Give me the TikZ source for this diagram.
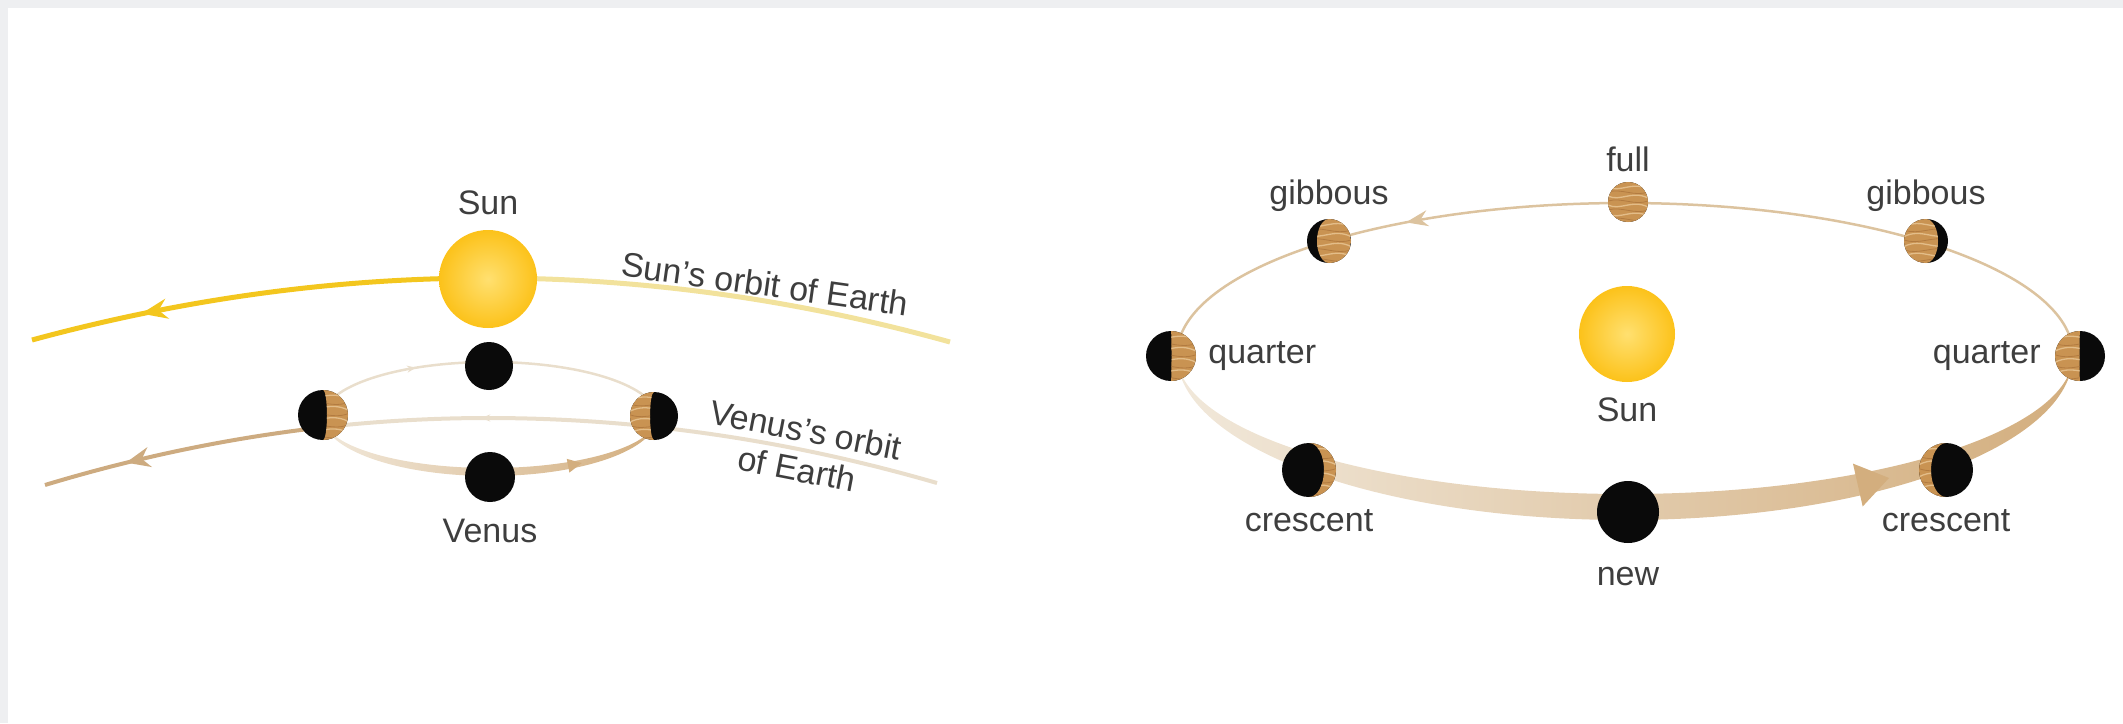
\documentclass[tikz,border=0pt]{standalone}
\usepackage{fontspec}
\setmainfont{Liberation Sans}
\usetikzlibrary{arrows.meta,positioning,decorations.markings}

\definecolor{sunyellow}{HTML}{FCC21A}
\definecolor{sunlight}{HTML}{FFE070}
\definecolor{orbityellow}{HTML}{F3C61E}
\definecolor{orbitpale}{HTML}{F2E29C}
\definecolor{orbittan}{HTML}{CDAB80}
\definecolor{orbitpaletan}{HTML}{E9DECC}
\definecolor{uppertan}{HTML}{DCC39F}
\definecolor{bandpale}{HTML}{F1E8DA}
\definecolor{banddark}{HTML}{D3AE7E}
\definecolor{venusdark}{HTML}{0A0A0A}
\definecolor{venuslit}{HTML}{C99352}
\definecolor{venusgrain}{HTML}{E3BD89}
\definecolor{venusgrainb}{HTML}{A9713A}
\definecolor{labelgray}{HTML}{3E3E3E}
\definecolor{framegray}{HTML}{EEEFF1}

% lit part of a disc: #1 node, #2 radius, #3 terminator x radius,
% #4 end angle (90 crescent, -270 gibbous), #5 lit side (1 right, -1 left)
\newcommand\venuslight[5]{%
  \begin{scope}[shift={(#1.center)},xscale=#5]
    \clip (0,#2) arc[start angle=90,end angle=-90,radius=#2]
          arc[start angle=-90,end angle=#4,x radius=#3,y radius=#2] -- cycle;
    \fill[venuslit] (-#2,-#2) rectangle (#2,#2);
    \foreach \g in {-0.75,-0.3,0.15,0.6}
      \draw[venusgrain,line width=1.3pt]
        (-#2,\g*#2) .. controls (-0.4*#2,\g*#2+0.3*#2) and (0.2*#2,\g*#2-0.3*#2) .. (#2,\g*#2+0.1*#2);
    \foreach \g in {-0.5,-0.05,0.4,0.85}
      \draw[venusgrainb,line width=0.8pt,opacity=0.7]
        (-#2,\g*#2) .. controls (-0.3*#2,\g*#2-0.2*#2) and (0.3*#2,\g*#2+0.25*#2) .. (#2,\g*#2);
  \end{scope}}

\tikzset{tipat/.style 2 args={postaction={decorate},
    decoration={markings,mark=at position #1 with {#2}}}}

\begin{document}
\begin{tikzpicture}[x=1pt,y=-1pt,every node/.style={inner sep=0pt}]
  \tikzstyle{sun}=[circle,inner color=sunlight,outer color=sunyellow]
  \tikzstyle{venus}=[circle,fill=venusdark]
  \tikzstyle{lbl}=[font=\fontsize{34}{37}\selectfont,text=labelgray]
  \tikzstyle{band}=[left color=bandpale,right color=banddark]

  \useasboundingbox (0,0) rectangle (2123,723);
  \fill[framegray] (0,0) rectangle (2123,8);
  \fill[framegray] (0,0) rectangle (8,723);

  % sun's orbit of earth
  \draw[orbityellow,line width=5pt,
        tipat={0.3}{\arrow[orbityellow]{Stealth[reversed,length=26pt,width=20pt]}}]
    (32,340) .. controls (184,298.7) and (336,278) .. (488,278);
  \draw[orbitpale,line width=5pt]
    (488,278) .. controls (642,278) and (796,299.3) .. (950,342);

  % venus's orbit of earth
  \draw[orbittan,line width=4pt,
        tipat={0.38}{\arrow[orbittan]{Stealth[reversed,length=24pt,width=20pt]}}]
    (45,485) .. controls (137.7,457) and (230.3,437.8) .. (323,427.3);
  \draw[orbitpaletan,line width=4pt,
        tipat={0.27}{\arrow[orbitpaletan]{Stealth[reversed,length=9pt,width=7pt]}}]
    (323,427.3) .. controls (378,421.1) and (433,418) .. (488,418)
    .. controls (637.7,418) and (787.3,439.7) .. (937,483);

  % venus round the sun
  \draw[orbitpaletan,line width=2.5pt,
        tipat={0.3}{\arrow[orbitpaletan]{Stealth[length=9pt,width=7pt]}}]
    (323,417) arc[start angle=180,end angle=360,x radius=167,y radius=55];
  \shade[band] (323,417) arc[start angle=180,end angle=0,x radius=167,y radius=59]
               arc[start angle=0,end angle=180,x radius=167,y radius=51] -- cycle;
  \path[tipat={0.73}{\fill[banddark] (7,0) -- (-7,7) -- (-7,-7) -- cycle;}]
    (323,417) arc[start angle=180,end angle=0,x radius=167,y radius=55];

  \node[sun,minimum size=98pt] (sunL) at (488,279) {};
  \node[venus,minimum size=48pt] (venT) at (489,366) {};
  \node[venus,minimum size=50pt] (venL) at (323,415) {};
  \node[venus,minimum size=48pt] (venR) at (654,416) {};
  \node[venus,minimum size=50pt] (venB) at (490,477) {};
  \venuslight{venL}{25}{4}{90}{1}
  \venuslight{venR}{24}{4}{90}{-1}

  \node[lbl,above=15pt of sunL] (sunLlbl) {Sun};
  \node[lbl,below=17pt of venB] (venBlbl) {Venus};
  \node[lbl,rotate=-8] (sunorb) at (765,284) {Sun’s orbit of Earth};
  \node[lbl,rotate=-11] (venorb) at (806,430) {Venus’s orbit};
  \node[lbl,rotate=-11] (venorbb) at (797,469) {of Earth};

  % phases seen from earth
  \draw[uppertan,line width=2.5pt,
        tipat={0.72}{\arrow[uppertan]{Stealth[length=22pt,width=16pt]}}]
    (2073,355) arc[start angle=360,end angle=180,x radius=448,y radius=152];
  \shade[band] (1177,355) arc[start angle=180,end angle=0,x radius=448,y radius=165]
               arc[start angle=0,end angle=180,x radius=448,y radius=139] -- cycle;
  \path[tipat={0.75}{\fill[banddark] (16,0) -- (-16,22) -- (-16,-22) -- cycle;}]
    (1177,355) arc[start angle=180,end angle=0,x radius=448,y radius=152];

  \node[sun,minimum size=96pt] (sunR) at (1627,334) {};
  \node[venus,minimum size=40pt] (full) at (1628,202) {};
  \node[venus,minimum size=44pt] (gibL) at (1329,241) {};
  \node[venus,minimum size=44pt] (gibR) at (1926,241) {};
  \node[venus,minimum size=50pt] (quaL) at (1171,356) {};
  \node[venus,minimum size=50pt] (quaR) at (2080,356) {};
  \node[venus,minimum size=54pt] (creL) at (1309,470) {};
  \node[venus,minimum size=54pt] (creR) at (1946,470) {};
  \node[venus,minimum size=62pt] (new) at (1628,512) {};
  \venuslight{full}{20}{20}{-270}{1}
  \venuslight{gibL}{22}{12}{-270}{1}
  \venuslight{gibR}{22}{12}{-270}{-1}
  \venuslight{quaL}{25}{0.5}{90}{1}
  \venuslight{quaR}{25}{0.5}{90}{-1}
  \venuslight{creL}{27}{15}{90}{1}
  \venuslight{creR}{27}{15}{90}{-1}

  \node[lbl,above=10pt of full] (fullLbl) {full};
  \node[lbl,above=7pt of gibL] (gibLlbl) {gibbous};
  \node[lbl,above=7pt of gibR] (gibRlbl) {gibbous};
  \node[lbl,right=12pt of quaL] (quaLlbl) {quarter};
  \node[lbl,left=14pt of quaR] (quaRlbl) {quarter};
  \node[lbl,below=15pt of sunR] (sunRlbl) {Sun};
  \node[lbl,below=12pt of creL] (creLlbl) {crescent};
  \node[lbl,below=12pt of creR] (creRlbl) {crescent};
  \node[lbl,below=24pt of new] (newLbl) {new};
\end{tikzpicture}
\end{document}
